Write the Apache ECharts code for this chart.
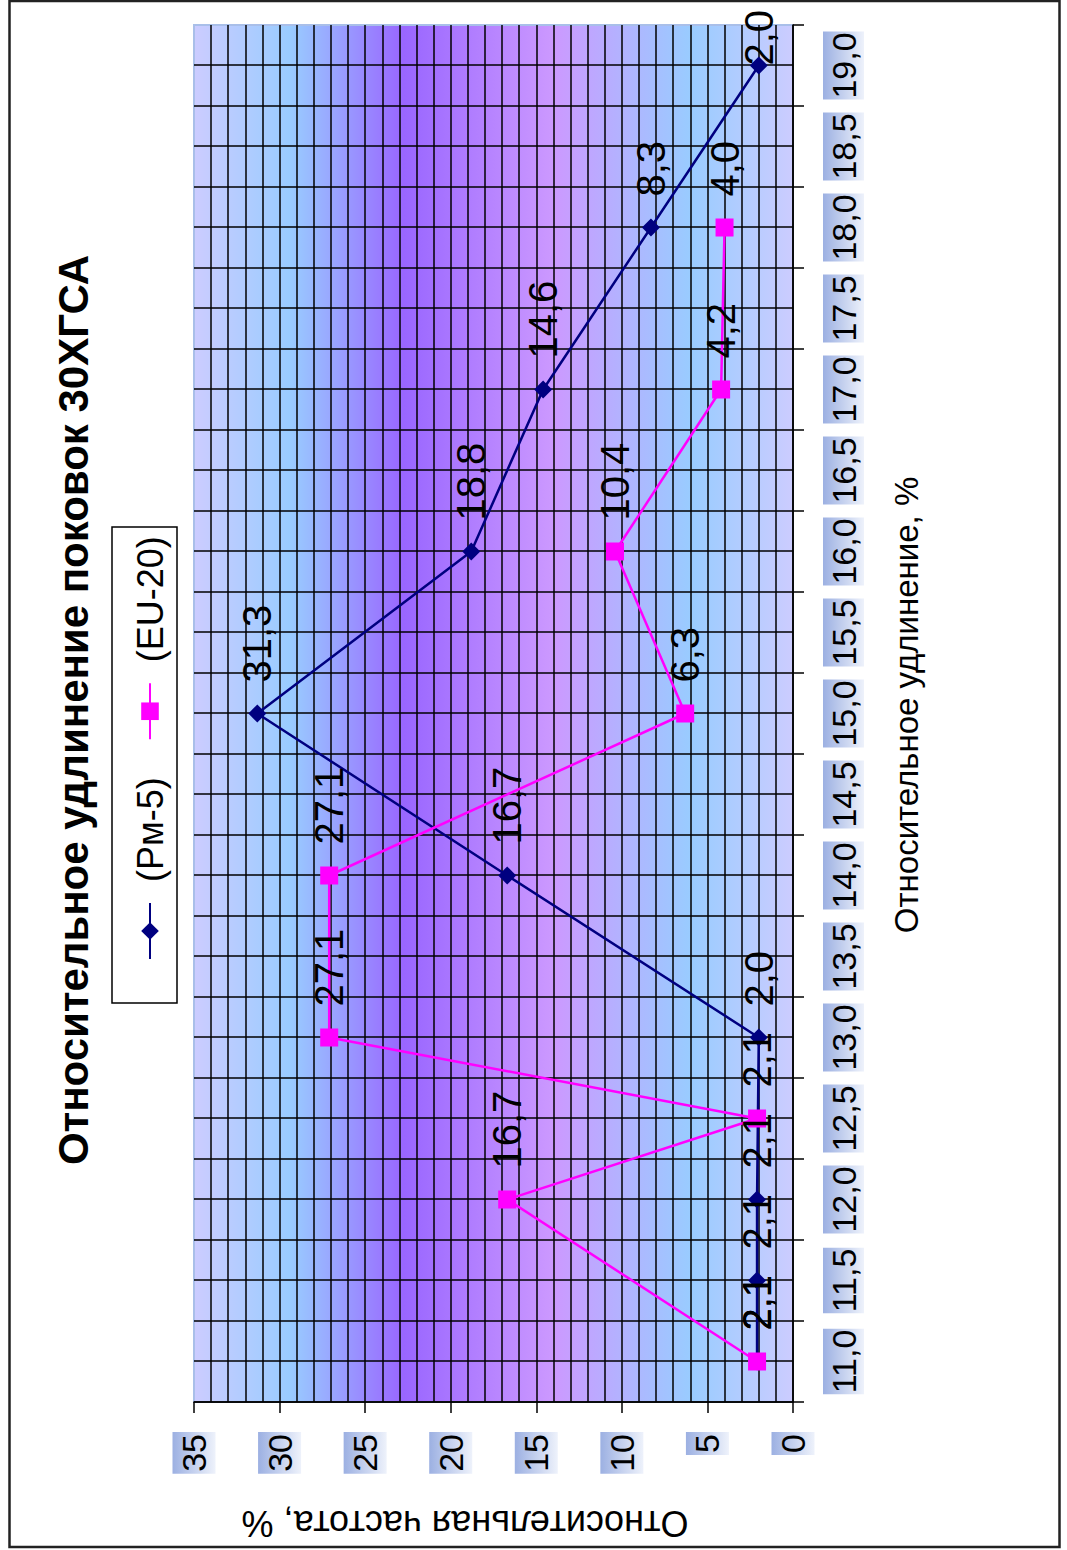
<!DOCTYPE html>
<html>
<head>
<meta charset="utf-8">
<title>Относительное удлинение поковок 30ХГСА</title>
<script src="https://cdn.jsdelivr.net/npm/echarts@6/dist/echarts.min.js"></script>
<style>
  html, body { margin: 0; padding: 0; background: #fff; overflow: hidden; width: 1067px; height: 1550px; }
  /* the chart is laid out landscape and turned a quarter turn to stand on the page */
  #chart {
    position: absolute; left: 0; top: 0;
    width: 1550px; height: 1067px;
    transform-origin: 0 0;
    transform: translateY(1550px) rotate(-90deg);
  }
</style>
</head>
<body>
<div id="chart"></div>
<script>
// Elongation classes, %
const categories = ['11,0', '11,5', '12,0', '12,5', '13,0', '13,5', '14,0', '14,5', '15,0',
                    '15,5', '16,0', '16,5', '17,0', '17,5', '18,0', '18,5', '19,0'];
// Relative frequency, % (null = no observation in that class)
const rm5  = [2.1, 2.1, 2.1, null, 2.0, null, 16.7, null, 31.3, null, 18.8, null, 14.6, null, 8.3, null, 2.0];
const eu20 = [2.1, null, 16.7, 2.1, 27.1, null, 27.1, null, 6.3, null, 10.4, null, 4.2, null, 4.0, null, null];
const seriesNames = ['(Рм-5)', '(EU-20)'];
// Frequency axis range and label step
const freqMin = 0, freqMax = 35, freqStep = 5;

const titleText = 'Относительное удлинение поковок 30ХГСА';
const xName = 'Относительное удлинение, %';
const yName = 'Относительная частота, %';

const FONT = "'Liberation Sans', Arial, sans-serif";
const G = echarts.graphic;

// half-class slots, used only to draw the fine category grid
const halfSlots = new Array(categories.length * 2).fill('');

const plotFill = new G.LinearGradient(0, 0, 0, 1, [
  { offset: 0.00, color: '#ccccff' },
  { offset: 0.16, color: '#99ccff' },
  { offset: 0.35, color: '#9966ff' },
  { offset: 0.60, color: '#cc99ff' },
  { offset: 0.83, color: '#99ccff' },
  { offset: 1.00, color: '#ccccff' }
]);
const labelBox = () => new G.LinearGradient(0, 0, 0, 1, [
  { offset: 0, color: '#9cb0e2' },
  { offset: 1, color: '#eef2fb' }
]);

const black = { color: '#000', width: 1.5 };
const fmt = v => (v == null ? '' : Number(v).toFixed(1).replace('.', ','));

const LABEL_DIST = 22;
const dataLabel = {
  show: true, position: 'right', distance: LABEL_DIST,
  fontSize: 40, fontFamily: FONT, color: '#000',
  formatter: p => fmt(p.value)
};

// the label of the last class would run past the chart edge; pull it back over its point
function withEdgeLabel(values) {
  return values.map((v, i) =>
    (i === values.length - 1 && v != null)
      ? { value: v, label: { offset: [-(9 + LABEL_DIST), 0] } }
      : v);
}

const chart = echarts.init(document.getElementById('chart'), null, { renderer: 'svg', width: 1550, height: 1067 });

chart.setOption({
  animation: false,
  backgroundColor: '#fff',
  grid: {
    left: 148, top: 194, width: 1377, height: 599,
    show: true, backgroundColor: plotFill,
    borderColor: '#a9bfe9', borderWidth: 2
  },
  legend: {
    left: 585, top: 123,
    itemWidth: 56, itemHeight: 22, itemGap: 37,
    textStyle: { fontSize: 36, fontFamily: FONT, color: '#000', lineHeight: 44, padding: [0, 0, 0, 16] },
    data: seriesNames
  },
  xAxis: [
    {
      type: 'category', data: categories, boundaryGap: true, position: 'bottom',
      axisLine: { show: true, onZero: false, lineStyle: black },
      axisTick: { show: true, interval: 0, length: 11, lineStyle: black },
      axisLabel: {
        interval: 0, margin: 30, fontSize: 34, fontFamily: FONT, color: '#000',
        backgroundColor: labelBox(), padding: [2, 1], lineHeight: 37
      },
      splitLine: { show: false }
    },
    {
      type: 'category', data: halfSlots, boundaryGap: true, position: 'bottom',
      axisLine: { show: false }, axisTick: { show: false }, axisLabel: { show: false },
      splitLine: { show: true, interval: 0, showMaxLine: false, lineStyle: black }
    }
  ],
  yAxis: {
    type: 'value', min: freqMin, max: freqMax, interval: freqStep,
    axisLine: { show: true, onZero: false, lineStyle: black },
    axisTick: { show: true, length: 11, lineStyle: black },
    axisLabel: {
      margin: 30, fontSize: 34, fontFamily: FONT, color: '#000',
      backgroundColor: labelBox(), padding: [2, 2], lineHeight: 39
    },
    splitLine: { show: true, showMaxLine: false, lineStyle: black },
    minorTick: { show: false, splitNumber: 5 },
    minorSplitLine: { show: true, lineStyle: black }
  },
  series: [
    {
      name: seriesNames[0], type: 'line', data: withEdgeLabel(rm5), connectNulls: true,
      symbol: 'diamond', symbolSize: 18,
      itemStyle: { color: '#000080' },
      lineStyle: { color: '#000080', width: 2.5 },
      label: dataLabel, emphasis: { disabled: true }
    },
    {
      name: seriesNames[1], type: 'line', data: withEdgeLabel(eu20), connectNulls: true,
      symbol: 'rect', symbolSize: 18,
      itemStyle: { color: '#ff00ff' },
      lineStyle: { color: '#ff00ff', width: 2.5 },
      label: dataLabel, emphasis: { disabled: true }
    }
  ],
  graphic: [
    { type: 'rect', silent: true, shape: { x: 3, y: 9.5, width: 1546, height: 1050 },
      style: { fill: 'none', stroke: '#222', lineWidth: 2.5 } },
    { type: 'rect', silent: true, shape: { x: 547, y: 112, width: 476, height: 65 },
      style: { fill: 'none', stroke: '#000', lineWidth: 1.5 } },
    { type: 'text', silent: true, x: 840, y: 73,
      style: { text: titleText, fontSize: 42, fontWeight: 'bold', fontFamily: FONT,
               fill: '#000', align: 'center', verticalAlign: 'middle' } },
    { type: 'text', silent: true, x: 845, y: 906,
      style: { text: xName, fontSize: 33, fontFamily: FONT,
               fill: '#000', align: 'center', verticalAlign: 'middle' } },
    { type: 'text', silent: true, x: 27, y: 465, rotation: Math.PI / 2,
      style: { text: yName, fontSize: 36, fontFamily: FONT,
               fill: '#000', align: 'center', verticalAlign: 'middle' } }
  ]
});
</script>
</body>
</html>
